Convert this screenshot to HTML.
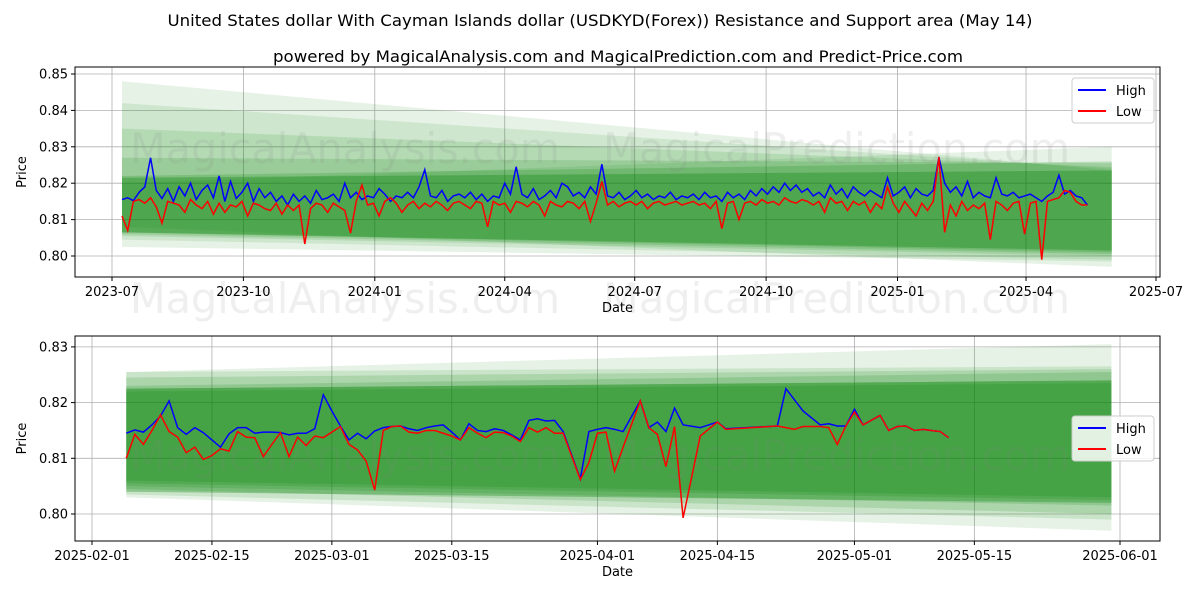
<!DOCTYPE html>
<html><head><meta charset="utf-8"><style>
body{margin:0;background:#fff;font-family:"Liberation Sans","DejaVu Sans",sans-serif}
svg text{font-family:"DejaVu Sans","Liberation Sans",sans-serif}
</style></head><body>
<svg id="c" width="1200" height="600" viewBox="0 0 1200 600" xmlns="http://www.w3.org/2000/svg">
<text x="600" y="26" text-anchor="middle" font-size="16" textLength="865" lengthAdjust="spacingAndGlyphs">United States dollar With Cayman Islands dollar (USDKYD(Forex)) Resistance and Support area (May 14)</text>
<text x="618" y="62" text-anchor="middle" font-size="16" textLength="690" lengthAdjust="spacingAndGlyphs">powered by MagicalAnalysis.com and MagicalPrediction.com and Predict-Price.com</text>
</svg>
<script>
// ---------- top chart data ----------
const topStart = "2023-07-08";
const topStepDays = 4;
const topHigh = [.8155,.8160,.8152,.8175,.8190,.8270,.8180,.8158,.8185,.8150,
.8190,.8165,.8200,.8155,.8180,.8195,.8160,.8220,.8150,.8205,
.8158,.8175,.8200,.8150,.8185,.8160,.8175,.8150,.8165,.8140,
.8170,.8150,.8165,.8145,.8180,.8155,.8160,.8170,.8150,.8200,
.8160,.8175,.8155,.8165,.8160,.8185,.8170,.8150,.8165,.8160,
.8175,.8160,.8190,.8237,.8165,.8160,.8180,.8150,.8165,.8170,
.8160,.8175,.8155,.8170,.8150,.8165,.8160,.8200,.8170,.8245,
.8170,.8160,.8185,.8155,.8165,.8180,.8160,.8200,.8190,.8165,
.8175,.8160,.8190,.8170,.8252,.8165,.8160,.8175,.8155,.8165,
.8180,.8160,.8170,.8155,.8165,.8160,.8175,.8155,.8165,.8160,
.8170,.8155,.8175,.8160,.8165,.8150,.8175,.8160,.8170,.8155,
.8180,.8165,.8185,.8170,.8190,.8175,.8200,.8180,.8195,.8175,
.8185,.8165,.8175,.8160,.8195,.8170,.8185,.8160,.8190,.8175,
.8165,.8180,.8170,.8160,.8215,.8165,.8175,.8190,.8160,.8185,
.8170,.8165,.8180,.8272,.8200,.8175,.8190,.8165,.8205,.8160,
.8175,.8165,.8160,.8215,.8170,.8165,.8175,.8160,.8165,.8170,
.8160,.8150,.8165,.8175,.8222,.8170,.8180,.8165,.8160,.8140];
const topLow = [.8110,.8070,.8150,.8155,.8145,.8160,.8135,.8090,.8150,.8145,
.8140,.8120,.8155,.8140,.8130,.8150,.8115,.8145,.8120,.8140,
.8135,.8150,.8110,.8145,.8140,.8130,.8125,.8145,.8115,.8140,
.8125,.8140,.8033,.8130,.8145,.8140,.8120,.8145,.8135,.8125,
.8063,.8150,.8195,.8140,.8145,.8110,.8150,.8160,.8145,.8120,
.8140,.8150,.8130,.8145,.8135,.8150,.8140,.8125,.8145,.8150,
.8140,.8130,.8150,.8145,.8080,.8150,.8140,.8145,.8120,.8150,
.8145,.8135,.8150,.8140,.8110,.8150,.8140,.8135,.8150,.8145,
.8130,.8150,.8095,.8145,.8205,.8140,.8150,.8135,.8145,.8150,
.8140,.8150,.8130,.8145,.8150,.8140,.8145,.8150,.8140,.8145,
.8150,.8140,.8145,.8130,.8150,.8075,.8145,.8150,.8100,.8145,
.8150,.8140,.8155,.8145,.8150,.8140,.8160,.8150,.8145,.8155,
.8150,.8140,.8150,.8120,.8160,.8145,.8150,.8125,.8150,.8140,
.8150,.8120,.8145,.8130,.8190,.8145,.8120,.8150,.8130,.8110,
.8145,.8125,.8150,.8272,.8065,.8140,.8110,.8150,.8125,.8140,
.8130,.8145,.8045,.8150,.8140,.8125,.8145,.8150,.8060,.8145,
.8150,.7990,.8150,.8155,.8160,.8180,.8175,.8150,.8140,.8140];
const topBandDates = ["2023-07-08","2025-05-31"];
const topBandUpStart = [0.848,0.842,0.835,0.827,0.822,0.820,0.8215];
const topBandUpEnd   = [0.8235,0.824,0.8245,0.8255,0.826,0.830,0.8235];
const topBandLoStart = [0.8025,0.8045,0.8055,0.806,0.8065,0.808,0.8065];
const topBandLoEnd   = [0.7985,0.799,0.800,0.8005,0.801,0.797,0.8015];
const topBandAlpha   = [0.1,0.1,0.12,0.15,0.18,0.1,0.3];
const topYTicks = [0.80,0.81,0.82,0.83,0.84,0.85];
const topXTicks = ["2023-07","2023-10","2024-01","2024-04","2024-07","2024-10","2025-01","2025-04","2025-07"];

// ---------- bottom chart data ----------
const botStart = "2025-02-05";
const botDays = [0,1,2,3,4,5,6,7,8,9,10,11,12,13,14,15,16,17,18,19,20,21,22,23,24,25,26,27,28,29,30,31,32,33,34,35,36,37,38,39,40,41,42,43,44,45,46,47,48,49,50,51,53,54,55,56,57,58,60,61,62,63,64,65,67,69,70,76,77,78,79,81,82,83,84,85,86,88,89,90,91,92,93,94,95,96];
const botHigh = [.8145,.8151,.8147,.8160,.8176,.8203,.8155,.8143,.8155,.8146,.8133,.8120,.8144,.8155,.8155,.8145,.8147,.8147,.8146,.8142,.8145,.8145,.8153,.8214,.8185,.8158,.8133,.8145,.8135,.8149,.8155,.8157,.8158,.8153,.8150,.8155,.8158,.8160,.8147,.8133,.8162,.8150,.8148,.8153,.8150,.8142,.8133,.8168,.8171,.8167,.8168,.8148,.8063,.8148,.8152,.8155,.8152,.8148,.8203,.8155,.8165,.8148,.8190,.8160,.8155,.8165,.8153,.8158,.8225,.8205,.8185,.8160,.8162,.8158,.8158,.8188,.8160,.8177,.8150,.8157,.8158,.8150,.8152,.8150,.8148,.8137];
const botLow = [.8100,.8143,.8125,.8150,.8178,.8148,.8138,.8110,.8120,.8098,.8105,.8117,.8113,.8148,.8138,.8137,.8103,.8125,.8146,.8103,.8138,.8123,.8140,.8137,.8147,.8157,.8125,.8115,.8095,.8043,.8150,.8157,.8158,.8147,.8145,.8150,.8150,.8145,.8140,.8133,.8155,.8145,.8137,.8147,.8146,.8140,.8130,.8155,.8147,.8155,.8145,.8145,.8062,.8092,.8145,.8147,.8077,.8120,.8203,.8155,.8143,.8085,.8157,.7993,.8140,.8165,.8152,.8158,.8155,.8152,.8157,.8157,.8155,.8125,.8158,.8183,.8160,.8177,.8150,.8157,.8158,.8150,.8152,.8150,.8148,.8137];
const botBandDates = ["2025-02-05","2025-05-31"];
const botBandUpStart = [0.8255,0.8255,0.8245,0.8230,0.8225,0.8220,0.8225];
const botBandUpEnd   = [0.8305,0.8265,0.8260,0.8255,0.8240,0.8235,0.8240];
const botBandLoStart = [0.8030,0.8035,0.8045,0.8050,0.8055,0.8060,0.8040];
const botBandLoEnd   = [0.7970,0.7990,0.8000,0.8015,0.8025,0.8030,0.8020];
const botBandAlpha   = [0.1,0.12,0.14,0.16,0.16,0.16,0.3];
const botYTicks = [0.80,0.81,0.82,0.83];
const botXTicks = ["2025-02-01","2025-02-15","2025-03-01","2025-03-15","2025-04-01","2025-04-15","2025-05-01","2025-05-15","2025-06-01"];

const NS="http://www.w3.org/2000/svg";
const svg=document.getElementById('c');
function el(tag,attrs,parent){const e=document.createElementNS(NS,tag);for(const k in attrs)e.setAttribute(k,attrs[k]);(parent||svg).appendChild(e);return e;}
const DAY=86400000;
function dnum(s){return Date.parse(s+(s.length==7?"-01":""))/DAY;}

function drawChart(o){
  const g=el('g',{});
  
  
  const X=d=>o.x0+(d-o.d0)*o.pxDay;
  const Y=v=>o.y0-(v-o.v0)*o.pxVal;
  o.yTicks.forEach(v=>{const l=el('line',{x1:o.L,x2:o.R,y1:Y(v),y2:Y(v),stroke:'#b0b0b0','stroke-width':0.8},g);
    });
  o.xTicks.forEach(s=>{const x=X(dnum(s));const l=el('line',{x1:x,x2:x,y1:o.T,y2:o.B,stroke:'#b0b0b0','stroke-width':0.8},g);
    });
  const bx0=X(dnum(o.bandDates[0])),bx1=X(dnum(o.bandDates[1]));
  for(let i=0;i<o.bUS.length;i++){
    const p=el('polygon',{points:`${bx0},${Y(o.bUS[i])} ${bx1},${Y(o.bUE[i])} ${bx1},${Y(o.bLE[i])} ${bx0},${Y(o.bLS[i])}`,fill:'#008000','fill-opacity':o.bA[i]},g);
    
  }
  o.wm.forEach(y=>{
    [['MagicalAnalysis.com',130,430],['MagicalPrediction.com',603,467]].forEach(w=>{
      const t=el('text',{x:w[1],y:y,'font-size':42,fill:'#808080','fill-opacity':0.13,textLength:w[2],lengthAdjust:'spacingAndGlyphs'},g);
      t.textContent=w[0];
      });
  });
  const pts=(vals)=>vals.map((v,i)=>X(o.days[i])+','+Y(v)).join(' ');
  const hl=el('polyline',{points:pts(o.high),fill:'none',stroke:'#0000ff','stroke-width':1.5},g);
  
  const ll=el('polyline',{points:pts(o.low),fill:'none',stroke:'#ff0000','stroke-width':1.5},g);
  
  const f=el('rect',{x:o.L,y:o.T,width:o.R-o.L,height:o.B-o.T,fill:'none',stroke:'#000','stroke-width':1},g);
  
  o.yTicks.forEach(v=>{const y=Y(v);el('line',{x1:o.L-4,x2:o.L,y1:y,y2:y,stroke:'#000'},g);
    const t=el('text',{x:o.L-7,y:y+4.5,'text-anchor':'end','font-size':13},g);t.textContent=v.toFixed(2);
    });
  o.xTicks.forEach(s=>{const x=X(dnum(s));el('line',{x1:x,x2:x,y1:o.B,y2:o.B+4,stroke:'#000'},g);
    const t=el('text',{x:x,y:o.B+19,'text-anchor':'middle','font-size':13},g);t.textContent=s;
    });
  const xl=el('text',{x:(o.L+o.R)/2,y:o.B+35,'text-anchor':'middle','font-size':13},g);xl.textContent='Date';
  
  const yl=el('text',{x:0,y:0,'text-anchor':'middle','font-size':13,transform:`translate(26,${(o.T+o.B)/2}) rotate(-90)`},g);yl.textContent='Price';
  
  const lg=el('g',{},g);
  
  el('rect',{x:o.lx,y:o.ly,width:82,height:45,rx:3,fill:'#fff','fill-opacity':0.85,stroke:'#ccc'},lg);
  [['High','#0000ff'],['Low','#ff0000']].forEach((e,i)=>{
    const y=o.ly+12+i*21;
    el('line',{x1:o.lx+6,x2:o.lx+34,y1:y,y2:y,stroke:e[1],'stroke-width':2},lg);
    const t=el('text',{x:o.lx+44,y:y+5,'font-size':13},lg);t.textContent=e[0];
    
  });
}

const topDays=topHigh.map((_,i)=>dnum(topStart)+i*topStepDays);
drawChart({name:'top-chart',L:75,R:1160,T:67,B:277,x0:112,d0:dnum("2023-07-01"),pxDay:1044/731,y0:256,v0:0.80,pxVal:3640,
  yTicks:topYTicks,xTicks:topXTicks,bandDates:topBandDates,bUS:topBandUpStart,bUE:topBandUpEnd,bLS:topBandLoStart,bLE:topBandLoEnd,bA:topBandAlpha,
  days:topDays,high:topHigh,low:topLow,wm:[163,313],lx:1072,ly:78});
const bd=botDays.map(d=>dnum(botStart)+d);
drawChart({name:'bottom-chart',L:75,R:1160,T:336,B:541,x0:92,d0:dnum("2025-02-01"),pxDay:1028/120,y0:514,v0:0.80,pxVal:5570,
  yTicks:botYTicks,xTicks:botXTicks,bandDates:botBandDates,bUS:botBandUpStart,bUE:botBandUpEnd,bLS:botBandLoStart,bLE:botBandLoEnd,bA:botBandAlpha,
  days:bd,high:botHigh,low:botLow,wm:[470],lx:1072,ly:416});
</script>
</body></html>
